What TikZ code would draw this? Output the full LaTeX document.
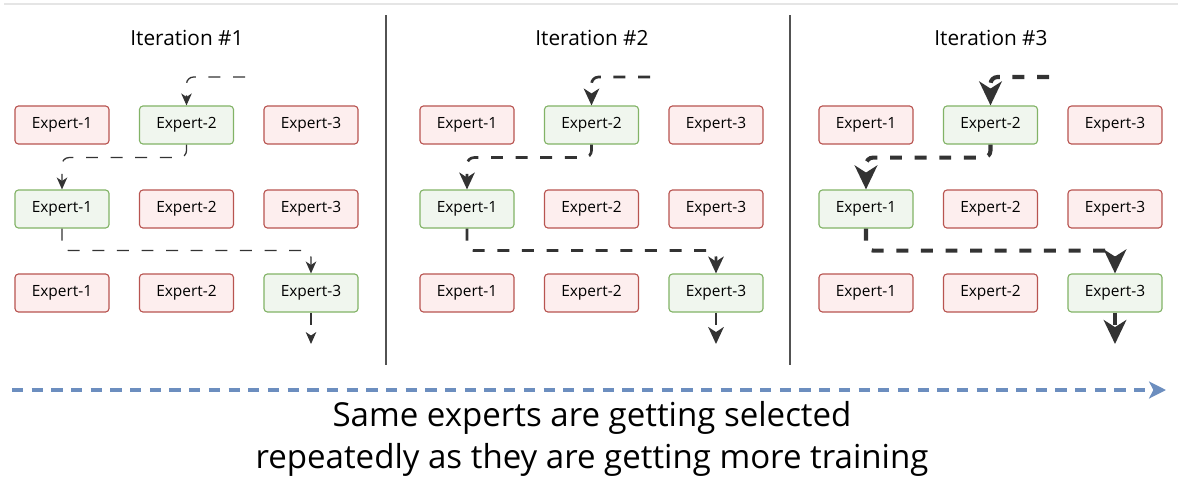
\documentclass[tikz,border=0pt]{standalone}
\usepackage{fontspec}
\setmainfont{Open Sans}
\usetikzlibrary{arrows.meta}
\definecolor{redline}{HTML}{B85450}
\definecolor{redfill}{HTML}{FDEEEE}
\definecolor{greenline}{HTML}{82B366}
\definecolor{greenfill}{HTML}{F0F6EE}
\definecolor{routegray}{HTML}{333333}
\definecolor{timeblue}{HTML}{6C8EBF}
\tikzset{
  expertbox/.style={draw,rounded corners=2.5pt,line width=0.8pt,minimum width=2.35cm,minimum height=0.95cm,font=\fontsize{11}{13}\selectfont},
  idle/.style={expertbox,draw=redline,fill=redfill},
  picked/.style={expertbox,draw=greenline,fill=greenfill},
  route/.style={draw=routegray,dash pattern=on 8.5pt off 9pt,rounded corners=5pt},
  divider/.style={draw=routegray!85,line width=1pt}
}
\begin{document}
\begin{tikzpicture}[x=0.025cm,y=-0.025cm]
  \useasboundingbox (0,0) rectangle (1178,481);
  \draw[gray!20,line width=1pt] (4,4) -- (1178,4);
  % three iterations side by side
  \foreach \it/\dx/\lw/\al/\aw/\ai in {1/0/0.9/8.5/7.5/2.5, 2/405/1.9/12/11/3.5, 3/804/2.9/17/16/5}{
    \node[font=\fontsize{14.8}{17}\selectfont] (title\it) at (187+\dx,38) {Iteration \#\it};
    \foreach \r/\c/\s in {1/1/idle,1/2/picked,1/3/idle,2/1/picked,2/2/idle,2/3/idle,3/1/idle,3/2/idle,3/3/picked}
      \node[\s] (e\it-\r-\c) at (62+124.5*\c-124.5+\dx,125+84*\r-84) {Expert-\c};
    \coordinate (src\it) at (245+\dx,77);
    \coordinate (sink\it) at (311+\dx,344);
    \begin{scope}[route,line width=\lw pt,-{Stealth[length=\al pt,width=\aw pt,inset=\ai pt]}]
      \draw (src\it) -| (e\it-1-2.north);
      \draw (e\it-1-2.south) -- ++(0,13) -| (e\it-2-1.north);
      \draw (e\it-2-1.south) -- ++(0,22) -| (e\it-3-3.north);
      \draw (e\it-3-3.south) -- (sink\it);
    \end{scope}
  }
  % separators
  \coordinate (sepa) at (386,15); \coordinate (sepb) at (386,365);
  \coordinate (sepc) at (790,15); \coordinate (sepd) at (790,365);
  \draw[divider] (sepa) -- (sepb);
  \draw[divider] (sepc) -- (sepd);
  % time axis and caption
  \coordinate (tstart) at (12,390); \coordinate (tend) at (1166,390);
  \draw[timeblue,line width=2.6pt,dash pattern=on 8pt off 6pt,-{Stealth[length=12pt,width=12pt,inset=3pt]}] (tstart) -- (tend);
  \node[align=center,font=\fontsize{23.5}{30}\selectfont] (caption) at (592,439) {Same experts are getting selected\\repeatedly as they are getting more training};
\end{tikzpicture}
\end{document}
